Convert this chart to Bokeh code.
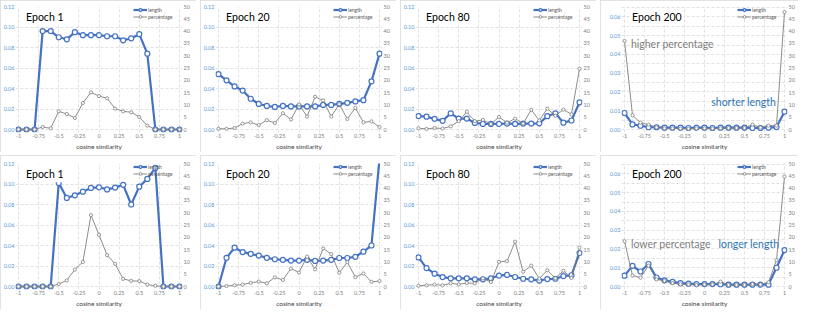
from bokeh.plotting import figure
from bokeh.models import (Range1d, LinearAxis, FixedTicker, NumeralTickFormatter,
                          Label, Legend, LegendItem)
from bokeh.layouts import column, row
from bokeh.embed import file_html
from bokeh.resources import INLINE

# ---------------- data ----------------
cos_sim = [-1.0, -0.9, -0.8, -0.7, -0.6, -0.5, -0.4, -0.3, -0.2, -0.1, 0.0,
           0.1, 0.2, 0.3, 0.4, 0.5, 0.6, 0.7, 0.8, 0.9, 1.0]

x_ticks = [-1, -0.75, -0.5, -0.25, 0, 0.25, 0.5, 0.75, 1]
x_tick_labels = ["-1", "-0.75", "-0.5", "-0.25", "0", "0.25", "0.5", "0.75", "1"]
x_axis_title = "cosine similarity"

len_ticks_main = [0.0, 0.02, 0.04, 0.06, 0.08, 0.10, 0.12]
len_ticks_e200 = [0.0, 0.01, 0.02, 0.03, 0.04, 0.05, 0.06]
len_grid_e200 = [0.0, 0.005, 0.01, 0.015, 0.02, 0.025, 0.03, 0.035, 0.04,
                 0.045, 0.05, 0.055, 0.06, 0.065]
len_max_main = 0.12
len_max_e200 = 0.0655
pct_ticks = [0, 5, 10, 15, 20, 25, 30, 35, 40, 45, 50]
pct_max = 50

titles = ["Epoch 1", "Epoch 20", "Epoch 80", "Epoch 200"]
series_names = ["length", "percentage"]

# top row
len_top_e1 = [0, 0, 0, 0.096, 0.096, 0.090, 0.088, 0.095, 0.092, 0.092, 0.092,
              0.091, 0.091, 0.087, 0.089, 0.093, 0.074, 0, 0, 0, 0]
pct_top_e1 = [0, 0, 0, 1.0, 0.5, 7.4, 6.3, 4.7, 10.8, 15.1, 13.6,
              12.7, 8.5, 7.4, 7.0, 5.1, 1.6, 0, 0, 0, 0]
len_top_e20 = [0.054, 0.048, 0.042, 0.038, 0.030, 0.025, 0.023, 0.022, 0.023, 0.0225, 0.0225,
               0.0225, 0.0225, 0.024, 0.024, 0.025, 0.026, 0.0274, 0.0286, 0.047, 0.074]
pct_top_e20 = [0.3, 0.3, 0.6, 2.4, 2.9, 1.8, 3.8, 2.7, 6.6, 4.1, 10.2,
               5.3, 13.3, 11.8, 5.3, 10.3, 4.3, 8.8, 2.9, 3.3, 1.0]
len_top_e80 = [0.0131, 0.0125, 0.0104, 0.0085, 0.0158, 0.0107, 0.0107, 0.0064, 0.0055, 0.0055, 0.0055,
               0.0058, 0.0055, 0.0058, 0.0058, 0.006, 0.013, 0.0158, 0.0067, 0.0088, 0.0265]
pct_top_e80 = [0.5, 0.25, 0.6, 0.4, 1.3, 3.4, 7.2, 3.4, 3.9, 2.2, 5.1,
               2.8, 4.4, 2.4, 8.0, 3.7, 8.5, 5.6, 8.1, 6.2, 24.7]
len_top_e200 = [0.0088, 0.0027, 0.002, 0.0012, 0.0012, 0.001, 0.001, 0.001, 0.0008, 0.001, 0.001,
                0.0008, 0.001, 0.001, 0.001, 0.001, 0.0008, 0.0008, 0.001, 0.0013, 0.0095]
pct_top_e200 = [36.0, 5.8, 2.8, 2.0, 0.9, 0.5, 0.5, 0.4, 0.3, 0.5, 0.5,
                0.4, 0.5, 0.6, 0.6, 0.6, 2.0, 0.8, 1.6, 1.6, 47.7]

# bottom row
len_bot_e1 = [0, 0, 0, 0, 0, 0.101, 0.0864, 0.089, 0.0925, 0.0962, 0.0968,
              0.0947, 0.0965, 0.0992, 0.080, 0.0974, 0.105, 0.1157, 0, 0, 0]
pct_bot_e1 = [0, 0, 0, 0, 0, 1.0, 2.5, 6.9, 10.0, 29.0, 21.0,
              12.8, 9.2, 3.1, 2.3, 2.2, 0.8, 0.3, 0, 0, 0]
len_bot_e20 = [0, 0.028, 0.0379, 0.0336, 0.0318, 0.0302, 0.028, 0.0266, 0.026, 0.0253, 0.0253,
               0.026, 0.025, 0.0253, 0.026, 0.0278, 0.0278, 0.029, 0.034, 0.040, 0.125]
pct_bot_e20 = [0, 0.2, 0.5, 0.8, 1.5, 2.0, 1.3, 3.7, 2.7, 7.3, 5.7,
               12.1, 7.0, 15.5, 13.2, 5.6, 9.9, 3.8, 5.3, 1.9, 2.2]
len_bot_e80 = [0.0284, 0.018, 0.0125, 0.0092, 0.008, 0.008, 0.008, 0.007, 0.007, 0.008, 0.0107,
               0.0113, 0.0093, 0.0076, 0.007, 0.0058, 0.0073, 0.0076, 0.0102, 0.011, 0.0327]
pct_bot_e80 = [0.3, 0.5, 0.8, 0.5, 1.3, 0.9, 1.4, 1.3, 3.3, 1.8, 10.0,
               10.3, 18.2, 6.0, 8.5, 3.2, 6.6, 3.4, 6.4, 3.5, 15.8]
len_bot_e200 = [0.0058, 0.011, 0.008, 0.012, 0.0048, 0.0033, 0.0025, 0.0018, 0.0015, 0.0013, 0.0013,
                0.0013, 0.0012, 0.001, 0.001, 0.001, 0.001, 0.001, 0.001, 0.010, 0.0194]
pct_bot_e200 = [18.4, 4.5, 3.6, 8.5, 2.9, 2.3, 1.4, 0.9, 0.8, 0.6, 0.8,
                0.8, 2.0, 0.6, 0.6, 0.6, 1.0, 0.8, 1.7, 10.7, 44.7]

notes_top_e200 = [("higher percentage", -0.92, 0.0453, "#808080"),
                  ("shorter length", 0.084, 0.0148, "#2E75B6")]
notes_bot_e200 = [("lower percentage", -0.92, 0.0229, "#808080"),
                  ("longer length", 0.176, 0.0229, "#2E75B6")]

# ---------------- style ----------------
FONT = "Lato"
BLUE = "#4472C4"
GREY = "#7F7F7F"
GRID = "#D9D9D9"
PAD = 3  # px padding so that edge markers are not clipped


def build(title, length, pct, ymax, yticks, ygrid, width, height, lb, rb, tb, bb, notes):
    fw = width - lb - rb          # frame width incl. padding
    fh = height - tb - bb         # frame height incl. padding
    dx = PAD / (fw - 2 * PAD) * 2.0
    dy = PAD / (fh - PAD)
    p = figure(width=width, height=height, output_backend="svg", toolbar_location=None, tools="",
               x_range=Range1d(-1 - dx, 1 + dx), y_range=Range1d(-dy * ymax, ymax),
               min_border_left=lb, min_border_right=rb, min_border_top=tb, min_border_bottom=bb,
               outline_line_color=None, border_fill_color="white", background_fill_color="white",
               styles={"outline": "1px solid #D9D9D9", "outline-offset": "-1px"})
    p.extra_y_ranges = {"pct": Range1d(-dy * pct_max, pct_max)}

    # x axis
    xa = p.xaxis[0]
    xa.ticker = FixedTicker(ticks=x_ticks)
    xa.major_label_overrides = {t: l for t, l in zip(x_ticks, x_tick_labels)}
    xa.axis_label = x_axis_title
    xa.axis_label_text_font = FONT
    xa.axis_label_text_font_size = "6.5px"
    xa.axis_label_text_font_style = "normal"
    xa.axis_label_text_color = "#404040"
    xa.axis_label_standoff = 2
    xa.major_label_text_font = FONT
    xa.major_label_text_font_size = "5.5px"
    xa.major_label_text_color = "#808080"
    xa.major_label_standoff = 1
    xa.axis_line_color = None
    xa.major_tick_line_color = None
    xa.minor_tick_line_color = None
    xa.major_tick_in = 0
    xa.major_tick_out = 0

    # left axis
    ya = p.yaxis[0]
    ya.ticker = FixedTicker(ticks=yticks)
    ya.formatter = NumeralTickFormatter(format="0.00")
    ya.major_label_text_font = FONT
    ya.major_label_text_font_size = "5.5px"
    ya.major_label_text_color = "#5B9BD5"
    ya.major_label_standoff = 1
    ya.axis_line_color = None
    ya.major_tick_line_color = None
    ya.minor_tick_line_color = None
    ya.major_tick_in = 0
    ya.major_tick_out = 0

    # right axis
    ra = LinearAxis(y_range_name="pct", ticker=FixedTicker(ticks=pct_ticks))
    ra.major_label_text_font = FONT
    ra.major_label_text_font_size = "5.5px"
    ra.major_label_text_color = "#808080"
    ra.major_label_standoff = 1
    ra.axis_line_color = None
    ra.major_tick_line_color = None
    ra.minor_tick_line_color = None
    ra.major_tick_in = 0
    ra.major_tick_out = 0
    p.add_layout(ra, "right")

    # grids
    p.xgrid.ticker = FixedTicker(ticks=x_ticks)
    p.ygrid.ticker = FixedTicker(ticks=ygrid)
    for g in (p.xgrid[0], p.ygrid[0]):
        g.grid_line_color = GRID
        g.grid_line_dash = "3 2"
        g.grid_line_width = 0.8

    # series
    l1 = p.line(cos_sim, length, line_color=BLUE, line_width=2.2)
    s1 = p.scatter(cos_sim, length, marker="circle", size=5, fill_color="white",
                   line_color=BLUE, line_width=1.2)
    l2 = p.line(cos_sim, pct, line_color=GREY, line_width=0.9, y_range_name="pct")
    s2 = p.scatter(cos_sim, pct, marker="circle", size=3.2, fill_color="white",
                   line_color=GREY, line_width=0.8, y_range_name="pct")

    leg = Legend(items=[LegendItem(label=series_names[0], renderers=[l1, s1]),
                        LegendItem(label=series_names[1], renderers=[l2, s2])],
                 location=(fw - PAD - 47, fh - 1 - 14),
                 label_text_font=FONT, label_text_font_size="5px", label_text_color="#595959",
                 glyph_width=14, glyph_height=7, label_height=7, label_standoff=1,
                 spacing=0, padding=0, margin=0, background_fill_alpha=0,
                 border_line_color=None)
    p.add_layout(leg)

    p.add_layout(Label(x=-0.93, y=ymax * 0.913, text=title, text_font=FONT,
                       text_font_size="10.5px", text_color="#000000", text_baseline="middle",
                       background_fill_color="white", padding=2))
    for txt, nx, ny, col in notes:
        p.add_layout(Label(x=nx, y=ny, text=txt, text_font=FONT, text_font_size="10.5px",
                           text_color=col, text_baseline="middle"))
    return p


top_data = [(len_top_e1, pct_top_e1), (len_top_e20, pct_top_e20),
            (len_top_e80, pct_top_e80), (len_top_e200, pct_top_e200)]
bot_data = [(len_bot_e1, pct_bot_e1), (len_bot_e20, pct_bot_e20),
            (len_bot_e80, pct_bot_e80), (len_bot_e200, pct_bot_e200)]

widths = [196, 196, 196, 198]
lbs = [14, 14, 14, 21]
rbs = [14, 14, 14, 11]

rows = []
for r, (data, h, tb, notes) in enumerate([(top_data, 152, 6, notes_top_e200),
                                          (bot_data, 154, 8, notes_bot_e200)]):
    figs = []
    for i, (ln, pc) in enumerate(data):
        if i == 3:
            ymax, yt, yg, nt = len_max_e200, len_ticks_e200, len_grid_e200, notes
        else:
            ymax, yt, yg, nt = len_max_main, len_ticks_main, len_ticks_main, []
        figs.append(build(titles[i], ln, pc, ymax, yt, yg, widths[i], h,
                          lbs[i], rbs[i], tb, 19, nt))
    rows.append(row(figs, spacing=4))

layout = column(rows, spacing=3)

open("out.html", "w").write(file_html(layout, INLINE))
